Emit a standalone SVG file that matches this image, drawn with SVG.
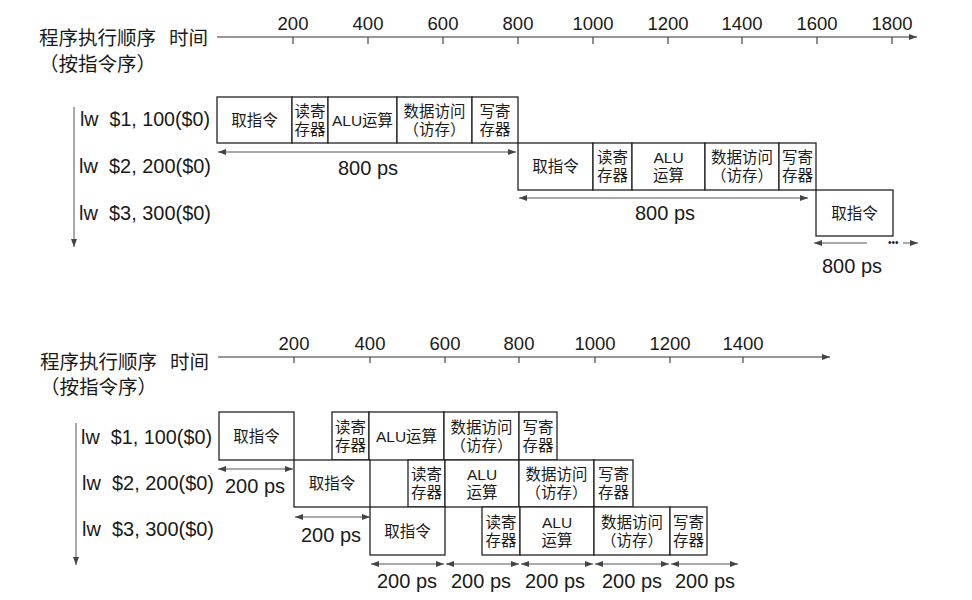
<svg xmlns="http://www.w3.org/2000/svg" width="972" height="600" viewBox="0 0 972 600">
<style>
.bg{fill:#fff}
.box{fill:#fff;stroke:#222;stroke-width:1.3}
.axis{stroke:#333;stroke-width:1.1;fill:none}
.tick{stroke:#333;stroke-width:1.1}
.dim{stroke:#555;stroke-width:1;fill:none}
.t{font-family:"Liberation Sans","Noto Sans CJK SC",sans-serif;fill:#1a1a1a}
.h{font-size:19.5px}
.num{font-size:18.5px;text-anchor:middle}
.lbl{font-size:20px}
.ps{font-size:20px;text-anchor:middle}
.b{font-size:15.5px;text-anchor:middle}
</style>
<defs>
<marker id="ah" viewBox="0 0 8 6" refX="8" refY="3" markerWidth="8" markerHeight="6" markerUnits="userSpaceOnUse" orient="auto-start-reverse">
<path d="M0,0 L8,3 L0,6 z" fill="#444"/>
</marker>
</defs>
<rect class="bg" x="0" y="0" width="972" height="600"/>

<!-- ===== TOP DIAGRAM ===== -->
<g id="top-header">
<text class="t h" x="39" y="45">程序执行顺序<tspan x="169">时间</tspan></text>
<text class="t h" x="39" y="71">（按指令序）</text>
</g>
<g id="top-axis">
<line class="axis" x1="217" y1="37" x2="917" y2="37" marker-end="url(#ah)"/>
<line class="tick" x1="293" y1="37" x2="293" y2="44"/>
<line class="tick" x1="368" y1="37" x2="368" y2="44"/>
<line class="tick" x1="443" y1="37" x2="443" y2="44"/>
<line class="tick" x1="518" y1="37" x2="518" y2="44"/>
<line class="tick" x1="593" y1="37" x2="593" y2="44"/>
<line class="tick" x1="668" y1="37" x2="668" y2="44"/>
<line class="tick" x1="742" y1="37" x2="742" y2="44"/>
<line class="tick" x1="817" y1="37" x2="817" y2="44"/>
<line class="tick" x1="892" y1="37" x2="892" y2="44"/>
<text class="t num" x="293" y="30">200</text>
<text class="t num" x="368" y="30">400</text>
<text class="t num" x="443" y="30">600</text>
<text class="t num" x="518" y="30">800</text>
<text class="t num" x="593" y="30">1000</text>
<text class="t num" x="668" y="30">1200</text>
<text class="t num" x="742" y="30">1400</text>
<text class="t num" x="817" y="30">1600</text>
<text class="t num" x="892" y="30">1800</text>
</g>
<g id="top-labels">
<text class="t lbl" x="80" y="126" xml:space="preserve" textLength="130" lengthAdjust="spacingAndGlyphs">lw  $1, 100($0)</text>
<text class="t lbl" x="79" y="173" xml:space="preserve" textLength="132" lengthAdjust="spacingAndGlyphs">lw  $2, 200($0)</text>
<text class="t lbl" x="79" y="220" xml:space="preserve" textLength="132" lengthAdjust="spacingAndGlyphs">lw  $3, 300($0)</text>
</g>

<g id="t1-if"><rect class="box" x="217" y="97" width="75" height="46"/><text class="t b" x="254.5" y="125.5">取指令</text></g>
<g id="t1-rr"><rect class="box" x="292" y="97" width="36" height="46"/><text class="t b" x="310" y="116.5">读寄</text><text class="t b" x="310" y="134.5">存器</text></g>
<g id="t1-alu"><rect class="box" x="328" y="97" width="69" height="46"/><text class="t b" x="362.5" y="125.5">ALU运算</text></g>
<g id="t1-mem"><rect class="box" x="397" y="97" width="75" height="46"/><text class="t b" x="434.5" y="116.5">数据访问</text><text class="t b" x="434.5" y="134.5">（访存）</text></g>
<g id="t1-wb"><rect class="box" x="472" y="97" width="46" height="46"/><text class="t b" x="495" y="116.5">写寄</text><text class="t b" x="495" y="134.5">存器</text></g>

<g id="t2-if"><rect class="box" x="518" y="143" width="75" height="47"/><text class="t b" x="555.5" y="172">取指令</text></g>
<g id="t2-rr"><rect class="box" x="593" y="143" width="39" height="47"/><text class="t b" x="612.5" y="163">读寄</text><text class="t b" x="612.5" y="181">存器</text></g>
<g id="t2-alu"><rect class="box" x="632" y="143" width="73" height="47"/><text class="t b" x="668.5" y="163">ALU</text><text class="t b" x="668.5" y="181">运算</text></g>
<g id="t2-mem"><rect class="box" x="705" y="143" width="74" height="47"/><text class="t b" x="742" y="163">数据访问</text><text class="t b" x="742" y="181">（访存）</text></g>
<g id="t2-wb"><rect class="box" x="779" y="143" width="37" height="47"/><text class="t b" x="797.5" y="163">写寄</text><text class="t b" x="797.5" y="181">存器</text></g>

<g id="t3-if"><rect class="box" x="816" y="190" width="77" height="46"/><text class="t b" x="854.5" y="218.5">取指令</text></g>

<g id="top-connectors">
<line class="dim" x1="74" y1="107" x2="74" y2="247" marker-end="url(#ah)"/>
<line class="dim" x1="218" y1="152" x2="516" y2="152" marker-start="url(#ah)" marker-end="url(#ah)"/>
<line class="dim" x1="519" y1="198" x2="808" y2="198" marker-start="url(#ah)" marker-end="url(#ah)"/>
<line class="dim" x1="814" y1="243" x2="867" y2="243" marker-start="url(#ah)"/>
<line class="dim" x1="903" y1="243" x2="918" y2="243" marker-end="url(#ah)"/>
</g>
<g id="top-dims">
<text class="t ps" x="368" y="175">800 ps</text>
<text class="t ps" x="665" y="220">800 ps</text>
<text class="t" x="888" y="246" font-size="10">•••</text>
<text class="t ps" x="852" y="273">800 ps</text>
</g>

<!-- ===== BOTTOM DIAGRAM ===== -->
<g id="bot-header">
<text class="t h" x="40" y="369">程序执行顺序<tspan x="170">时间</tspan></text>
<text class="t h" x="40" y="394">（按指令序）</text>
</g>
<g id="bot-axis">
<line class="axis" x1="218" y1="357" x2="830" y2="357" marker-end="url(#ah)"/>
<line class="tick" x1="294" y1="357" x2="294" y2="363"/>
<line class="tick" x1="370" y1="357" x2="370" y2="363"/>
<line class="tick" x1="445" y1="357" x2="445" y2="363"/>
<line class="tick" x1="519" y1="357" x2="519" y2="363"/>
<line class="tick" x1="595" y1="357" x2="595" y2="363"/>
<line class="tick" x1="670" y1="357" x2="670" y2="363"/>
<line class="tick" x1="743" y1="357" x2="743" y2="363"/>
<text class="t num" x="294" y="350">200</text>
<text class="t num" x="370" y="350">400</text>
<text class="t num" x="445" y="350">600</text>
<text class="t num" x="519" y="350">800</text>
<text class="t num" x="595" y="350">1000</text>
<text class="t num" x="670" y="350">1200</text>
<text class="t num" x="743" y="350">1400</text>
</g>
<g id="bot-labels">
<text class="t lbl" x="81" y="444" xml:space="preserve" textLength="131" lengthAdjust="spacingAndGlyphs">lw  $1, 100($0)</text>
<text class="t lbl" x="82" y="490" xml:space="preserve" textLength="132" lengthAdjust="spacingAndGlyphs">lw  $2, 200($0)</text>
<text class="t lbl" x="82" y="536" xml:space="preserve" textLength="132" lengthAdjust="spacingAndGlyphs">lw  $3, 300($0)</text>
</g>

<g id="b1-if"><rect class="box" x="219" y="412" width="75" height="48"/><text class="t b" x="256.5" y="441.5">取指令</text></g>
<g id="b1-rr"><rect class="box" x="332" y="412" width="37" height="48"/><text class="t b" x="350.5" y="432.5">读寄</text><text class="t b" x="350.5" y="450.5">存器</text></g>
<g id="b1-alu"><rect class="box" x="369" y="412" width="75" height="48"/><text class="t b" x="406.5" y="441.5">ALU运算</text></g>
<g id="b1-mem"><rect class="box" x="444" y="412" width="75" height="48"/><text class="t b" x="481.5" y="432.5">数据访问</text><text class="t b" x="481.5" y="450.5">（访存）</text></g>
<g id="b1-wb"><rect class="box" x="519" y="412" width="38" height="48"/><text class="t b" x="538" y="432.5">写寄</text><text class="t b" x="538" y="450.5">存器</text></g>

<g id="b2-if"><rect class="box" x="294" y="460" width="76" height="47"/><text class="t b" x="332" y="489">取指令</text></g>
<g id="b2-rr"><rect class="box" x="408" y="460" width="37" height="47"/><text class="t b" x="426.5" y="480">读寄</text><text class="t b" x="426.5" y="498">存器</text></g>
<g id="b2-alu"><rect class="box" x="445" y="460" width="74" height="47"/><text class="t b" x="482" y="480">ALU</text><text class="t b" x="482" y="498">运算</text></g>
<g id="b2-mem"><rect class="box" x="519" y="460" width="75" height="47"/><text class="t b" x="556.5" y="480">数据访问</text><text class="t b" x="556.5" y="498">（访存）</text></g>
<g id="b2-wb"><rect class="box" x="594" y="460" width="39" height="47"/><text class="t b" x="613.5" y="480">写寄</text><text class="t b" x="613.5" y="498">存器</text></g>

<g id="b3-if"><rect class="box" x="370" y="507" width="75" height="48"/><text class="t b" x="407.5" y="536.5">取指令</text></g>
<g id="b3-rr"><rect class="box" x="482" y="507" width="38" height="48"/><text class="t b" x="501" y="527.5">读寄</text><text class="t b" x="501" y="545.5">存器</text></g>
<g id="b3-alu"><rect class="box" x="520" y="507" width="74" height="48"/><text class="t b" x="557" y="527.5">ALU</text><text class="t b" x="557" y="545.5">运算</text></g>
<g id="b3-mem"><rect class="box" x="594" y="507" width="76" height="48"/><text class="t b" x="632" y="527.5">数据访问</text><text class="t b" x="632" y="545.5">（访存）</text></g>
<g id="b3-wb"><rect class="box" x="670" y="507" width="37" height="48"/><text class="t b" x="688.5" y="527.5">写寄</text><text class="t b" x="688.5" y="545.5">存器</text></g>

<g id="bot-connectors">
<line class="dim" x1="76" y1="423" x2="76" y2="565" marker-end="url(#ah)"/>
<line class="dim" x1="218" y1="469" x2="293" y2="469" marker-start="url(#ah)" marker-end="url(#ah)"/>
<line class="dim" x1="295" y1="517" x2="370" y2="517" marker-start="url(#ah)" marker-end="url(#ah)"/>
<line class="dim" x1="371" y1="564" x2="444" y2="564" marker-start="url(#ah)" marker-end="url(#ah)"/>
<line class="dim" x1="446" y1="564" x2="519" y2="564" marker-start="url(#ah)" marker-end="url(#ah)"/>
<line class="dim" x1="521" y1="564" x2="593" y2="564" marker-start="url(#ah)" marker-end="url(#ah)"/>
<line class="dim" x1="595" y1="564" x2="669" y2="564" marker-start="url(#ah)" marker-end="url(#ah)"/>
<line class="dim" x1="671" y1="564" x2="738" y2="564" marker-start="url(#ah)" marker-end="url(#ah)"/>
</g>
<g id="bot-dims">
<text class="t ps" x="255" y="493">200 ps</text>
<text class="t ps" x="331" y="542">200 ps</text>
<text class="t ps" x="407" y="588">200 ps</text>
<text class="t ps" x="481" y="588">200 ps</text>
<text class="t ps" x="555" y="588">200 ps</text>
<text class="t ps" x="632" y="588">200 ps</text>
<text class="t ps" x="705" y="588">200 ps</text>
</g>
</svg>
